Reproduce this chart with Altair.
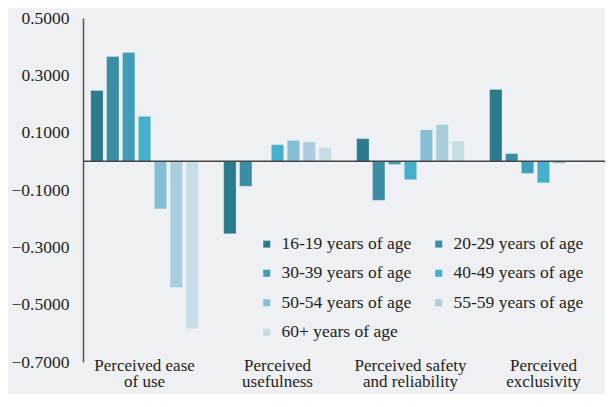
import altair as alt
import pandas as pd

categories = [
    "Perceived ease\nof use",
    "Perceived\nusefulness",
    "Perceived safety\nand reliability",
    "Perceived\nexclusivity",
]
ages = [
    "16-19 years of age",
    "20-29 years of age",
    "30-39 years of age",
    "40-49 years of age",
    "50-54 years of age",
    "55-59 years of age",
    "60+ years of age",
]
colors = ["#2A7B8C", "#3A8DA3", "#409DB7", "#46AFCB", "#85BFD3", "#A9CDDD", "#C5DDE7"]

# values per age group, in category order
v_16_19 = [0.247, -0.253, 0.079, 0.251]
v_20_29 = [0.366, -0.087, -0.136, 0.027]
v_30_39 = [0.380, 0.000, -0.011, -0.042]
v_40_49 = [0.157, 0.058, -0.064, -0.075]
v_50_54 = [-0.166, 0.073, 0.110, -0.007]
v_55_59 = [-0.440, 0.068, 0.129, 0.003]
v_60p = [-0.584, 0.048, 0.071, 0.003]

series = [v_16_19, v_20_29, v_30_39, v_40_49, v_50_54, v_55_59, v_60p]
rows = []
for age, vals in zip(ages, series):
    for cat, v in zip(categories, vals):
        rows.append({"category": cat, "age": age, "value": v})
df = pd.DataFrame(rows)

y_ticks = [-0.7, -0.5, -0.3, -0.1, 0.1, 0.3, 0.5]
FONT = "Liberation Serif"
TXT = "#231F20"

y_axis = alt.Axis(
    title=None,
    values=y_ticks,
    format=".4f",
    grid=False,
    ticks=False,
    domainColor="#555555",
    domainWidth=1.5,
    labelPadding=14,
)
y_scale = alt.Scale(domain=[-0.7, 0.5], nice=False, zero=False)

bars = alt.Chart(df).mark_bar(stroke="#ffffff", strokeOpacity=0.25, strokeWidth=1).encode(
    x=alt.X(
        "category:N",
        sort=categories,
        scale=alt.Scale(paddingInner=0.164, paddingOuter=0.045),
        axis=alt.Axis(
            title=None,
            labelAngle=0,
            domain=False,
            ticks=False,
            labelExpr="split(datum.label, '\\n')",
            labelPadding=-5,
            labelLineHeight=16,
            labelBaseline="top",
        ),
    ),
    xOffset=alt.XOffset("age:N", sort=ages, scale=alt.Scale(paddingInner=0.22, paddingOuter=0.11)),
    y=alt.Y("value:Q", scale=y_scale, axis=y_axis),
    color=alt.Color(
        "age:N",
        sort=ages,
        scale=alt.Scale(domain=ages, range=colors),
        legend=alt.Legend(
            title=None,
            orient="none",
            direction="horizontal",
            legendX=175,
            legendY=217,
            columns=2,
            symbolType="square",
            symbolSize=49,
            symbolStrokeWidth=0,
            labelOffset=6,
            columnPadding=18,
            rowPadding=10.5,
        ),
    ),
)

zero = alt.Chart(pd.DataFrame({"v": [0.0]})).mark_rule(color="#444444", strokeWidth=1.5).encode(
    y=alt.Y("v:Q", scale=y_scale, axis=y_axis)
)

chart = (
    alt.layer(bars, zero)
    .properties(
        width=522,
        height=344,
        background="#EEF0F3",
        autosize=alt.AutoSizeParams(type="none"),
        padding={"left": 75, "top": 10, "right": 0, "bottom": 32},
    )
    .configure_view(stroke=None)
    .configure_axis(labelFont=FONT, labelFontSize=17.5, labelColor=TXT)
    .configure_axisX(labelFontSize=17)
    .configure_legend(labelFont=FONT, labelFontSize=17.5, labelColor=TXT)
)

chart.save("out.html", embed_options={"renderer": "svg", "actions": False})
